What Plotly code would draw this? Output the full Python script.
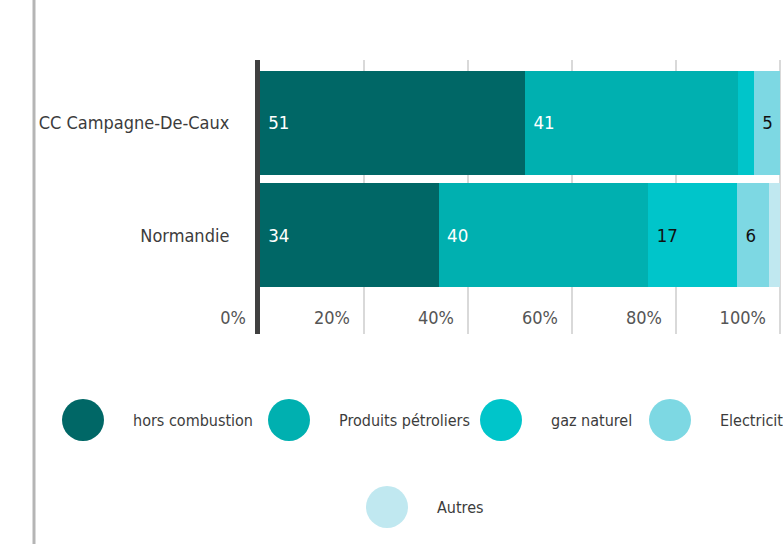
import plotly.graph_objects as go

# Données (en %)
territoires = ["CC Campagne-De-Caux", "Normandie"]
sources = ["hors combustion", "Produits pétroliers", "gaz naturel", "Electricité", "Autres"]
hors_combustion = [51, 34.4]
produits_petroliers = [41, 40.3]
gaz_naturel = [3, 17.1]
electricite = [5, 6.2]
autres = [0, 2.0]
ticks_pct = [0, 20, 40, 60, 80, 100]

series = [hors_combustion, produits_petroliers, gaz_naturel, electricite, autres]
couleurs = ["#006766", "#00b0b0", "#00c5ca", "#7dd8e3", "#c0e8f0"]
couleurs_texte = ["white", "white", "#111111", "#111111", "#111111"]

FONT = "DejaVu Sans Condensed, Liberation Sans Narrow, sans-serif"
W, H = 783, 544

fig = go.Figure()

# Barres empilées
for nom, vals, c, ct in zip(sources, series, couleurs, couleurs_texte):
    fig.add_trace(go.Bar(
        x=vals, y=territoires, orientation="h", name=nom,
        marker=dict(color=c, line=dict(width=0)),
        texttemplate=" %{x:.0f}", textposition="inside",
        insidetextanchor="start",
        textfont=dict(color=ct, size=18.5, family=FONT),
        showlegend=False, hoverinfo="skip"))

# Légende dessinée à part (grands ronds)
leg_x = [83, 289, 501, 670, 387]
leg_y = [420, 420, 420, 420, 507]
fig.add_trace(go.Scatter(
    x=leg_x, y=leg_y, xaxis="x2", yaxis="y2", mode="markers",
    marker=dict(size=42, color=couleurs, line=dict(width=0)),
    showlegend=False, hoverinfo="skip"))
for nom, lx, ly in zip(sources, leg_x, leg_y):
    fig.add_annotation(x=lx + 48, y=ly, xref="x2", yref="y2", text=nom,
                       showarrow=False, xanchor="left", yanchor="middle",
                       font=dict(size=16, color="#3c3c3c", family=FONT))

# Trait gris vertical à gauche
fig.add_shape(type="line", xref="paper", yref="paper",
              x0=34 / W, x1=34 / W, y0=0, y1=1,
              line=dict(color="#b5b5b5", width=3))

fig.update_layout(
    width=W, height=H,
    margin=dict(l=0, r=0, t=0, b=0),
    paper_bgcolor="white", plot_bgcolor="white",
    barmode="stack", bargap=0.075,
    font=dict(family=FONT, size=17, color="#3c3c3c"),
    uniformtext=dict(minsize=18.5, mode="hide"),
    xaxis=dict(domain=[260 / W, 1], range=[0, 100.6], automargin=False,
               tickvals=ticks_pct, ticktext=[f"{t}%" for t in ticks_pct],
               showgrid=True, gridcolor="#d9d9d9", gridwidth=2,
               zeroline=False, showline=False,
               ticklabelposition="inside left", ticklabelshift=-14,
               ticklabeloverflow="allow",
               tickfont=dict(size=18, color="#555555", family=FONT)),
    yaxis=dict(domain=[1 - 334 / H, 1 - 60 / H], range=[1.876, -0.56],
               automargin=False,
               showline=True, linecolor="#404040", linewidth=5,
               showgrid=False, zeroline=False,
               ticks="outside", ticklen=22, tickcolor="rgba(0,0,0,0)",
               tickfont=dict(size=18, color="#3c3c3c", family=FONT)),
    xaxis2=dict(domain=[0, 1], range=[0, W], visible=False, fixedrange=True),
    yaxis2=dict(domain=[0, 170 / H], range=[H, H - 170], visible=False,
                fixedrange=True),
)

# Supprime la marge du body pour coller au bord de la fenêtre
fig.write_html("out.html", config={"displayModeBar": False},
               post_script="document.body.style.margin='0';document.body.style.overflow='hidden';")
